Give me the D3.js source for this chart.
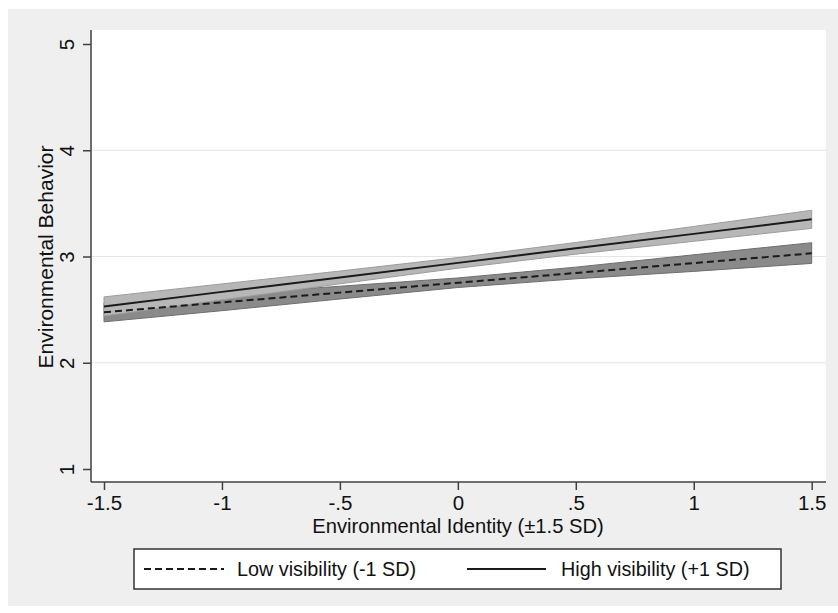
<!DOCTYPE html>
<html>
<head>
<meta charset="utf-8">
<script src="https://cdn.jsdelivr.net/npm/d3@7"></script>
<style>
  html, body { margin: 0; padding: 0; background: #ffffff; }
  svg { display: block; font-family: "Liberation Sans", Arial, Helvetica, sans-serif; }
</style>
</head>
<body>
<svg id="chart" width="838" height="613"></svg>
<script>
// ---- data ----
const xValues = [-1.5, -1, -0.5, 0, 0.5, 1, 1.5];
const lowFit   = [2.475, 2.568, 2.66, 2.753, 2.845, 2.938, 3.03];
const lowLo    = [2.385, 2.49, 2.6, 2.708, 2.79, 2.86, 2.935];
const lowHi    = [2.565, 2.646, 2.72, 2.798, 2.9, 3.016, 3.13];
const highFit  = [2.53, 2.667, 2.803, 2.94, 3.077, 3.213, 3.35];
const highLo   = [2.44, 2.592, 2.743, 2.89, 3.022, 3.143, 3.265];
const highHi   = [2.62, 2.742, 2.863, 2.99, 3.132, 3.283, 3.435];
const xTicks = [-1.5, -1, -0.5, 0, 0.5, 1, 1.5];
const xTickLabels = ["-1.5", "-1", "-.5", "0", ".5", "1", "1.5"];
const yTicks = [1, 2, 3, 4, 5];
const yGrid = [2, 3, 4];
const xTitle = "Environmental Identity (\u00b11.5 SD)";
const yTitle = "Environmental Behavior";
const legendLabels = ["Low visibility (-1 SD)", "High visibility (+1 SD)"];

// ---- layout ----
const svg = d3.select("#chart");
const plot = { left: 91, right: 826, top: 30, bottom: 482 };
const x = d3.scaleLinear().domain([-1.5, 1.5]).range([104, 811.7]);
const y = d3.scaleLinear().domain([1, 5]).range([469, 44]);
const font = "Liberation Sans, Arial, sans-serif";

// graph region
svg.append("rect").attr("x", 8).attr("y", 9).attr("width", 830).attr("height", 597).attr("fill", "#efefef");
// plot region
svg.append("rect").attr("x", plot.left).attr("y", plot.top)
  .attr("width", plot.right - plot.left).attr("height", plot.bottom - plot.top).attr("fill", "#ffffff");

// gridlines
svg.append("g").selectAll("line").data(yGrid).join("line")
  .attr("x1", plot.left).attr("x2", plot.right)
  .attr("y1", d => y(d)).attr("y2", d => y(d))
  .attr("stroke", "#e4e4e4").attr("stroke-width", 1.2);

// bands
const lowData = xValues.map((v, i) => ({ x: v, fit: lowFit[i], lo: lowLo[i], hi: lowHi[i] }));
const highData = xValues.map((v, i) => ({ x: v, fit: highFit[i], lo: highLo[i], hi: highHi[i] }));
const area = d3.area().x(d => x(d.x)).y0(d => y(d.lo)).y1(d => y(d.hi));
const line = d3.line().x(d => x(d.x)).y(d => y(d.fit));

svg.append("path").datum(lowData).attr("d", area)
  .attr("fill", "#8a8a8a").attr("stroke", "#6e6e6e").attr("stroke-width", 1);
svg.append("path").datum(highData).attr("d", area)
  .attr("fill", "#b7b7b7").attr("stroke", "#9c9c9c").attr("stroke-width", 1);

svg.append("path").datum(lowData).attr("d", line)
  .attr("fill", "none").attr("stroke", "#1a1a1a").attr("stroke-width", 2)
  .attr("stroke-dasharray", "7,4");
svg.append("path").datum(highData).attr("d", line)
  .attr("fill", "none").attr("stroke", "#1a1a1a").attr("stroke-width", 2);

// axes
const axisColor = "#404040";
const xAxis = d3.axisBottom(x).tickValues(xTicks).tickFormat((d, i) => xTickLabels[i]).tickSize(8).tickPadding(5);
const gx = svg.append("g").attr("transform", `translate(0,${plot.bottom})`).call(xAxis);
gx.select(".domain").remove();
gx.selectAll(".tick line").attr("stroke", axisColor).attr("stroke-width", 1.5);
gx.selectAll(".tick text").attr("font-size", 20.5).attr("fill", "#111").attr("font-family", font);
svg.append("line").attr("x1", plot.left).attr("x2", plot.right).attr("y1", plot.bottom).attr("y2", plot.bottom)
  .attr("stroke", axisColor).attr("stroke-width", 1.5);

const yAxis = d3.axisLeft(y).tickValues(yTicks).tickFormat(d3.format("d")).tickSize(8).tickPadding(8);
const gy = svg.append("g").attr("transform", `translate(${plot.left},0)`).call(yAxis);
gy.select(".domain").remove();
gy.selectAll(".tick line").attr("stroke", axisColor).attr("stroke-width", 1.5);
gy.selectAll(".tick text").attr("font-size", 20.5).attr("fill", "#111")
  .attr("font-family", font)
  .attr("text-anchor", "middle").attr("x", null)
  .attr("transform", "translate(-24,0) rotate(-90)").attr("dy", "0.36em");
svg.append("line").attr("x1", plot.left).attr("x2", plot.left).attr("y1", plot.top).attr("y2", plot.bottom)
  .attr("stroke", axisColor).attr("stroke-width", 1.5);

// titles
svg.append("text").attr("x", 458).attr("y", 533).attr("text-anchor", "middle")
  .attr("font-size", 20.2).attr("fill", "#111").text(xTitle);
svg.append("text").attr("transform", "translate(45,257) rotate(-90)").attr("text-anchor", "middle")
  .attr("dy", "0.36em").attr("font-size", 21).attr("fill", "#111").text(yTitle);

// legend
svg.append("rect").attr("x", 134).attr("y", 549).attr("width", 647).attr("height", 40)
  .attr("fill", "#ffffff").attr("stroke", "#333").attr("stroke-width", 1.5);
svg.append("line").attr("x1", 144).attr("x2", 224).attr("y1", 569).attr("y2", 569)
  .attr("stroke", "#1a1a1a").attr("stroke-width", 2).attr("stroke-dasharray", "7,4");
svg.append("text").attr("x", 237).attr("y", 569).attr("dy", "0.36em").attr("font-size", 19.8).attr("fill", "#111").text(legendLabels[0]);
svg.append("line").attr("x1", 467).attr("x2", 546).attr("y1", 569).attr("y2", 569)
  .attr("stroke", "#1a1a1a").attr("stroke-width", 2);
svg.append("text").attr("x", 561).attr("y", 569).attr("dy", "0.36em").attr("font-size", 19.8).attr("fill", "#111").text(legendLabels[1]);
</script>
</body>
</html>
